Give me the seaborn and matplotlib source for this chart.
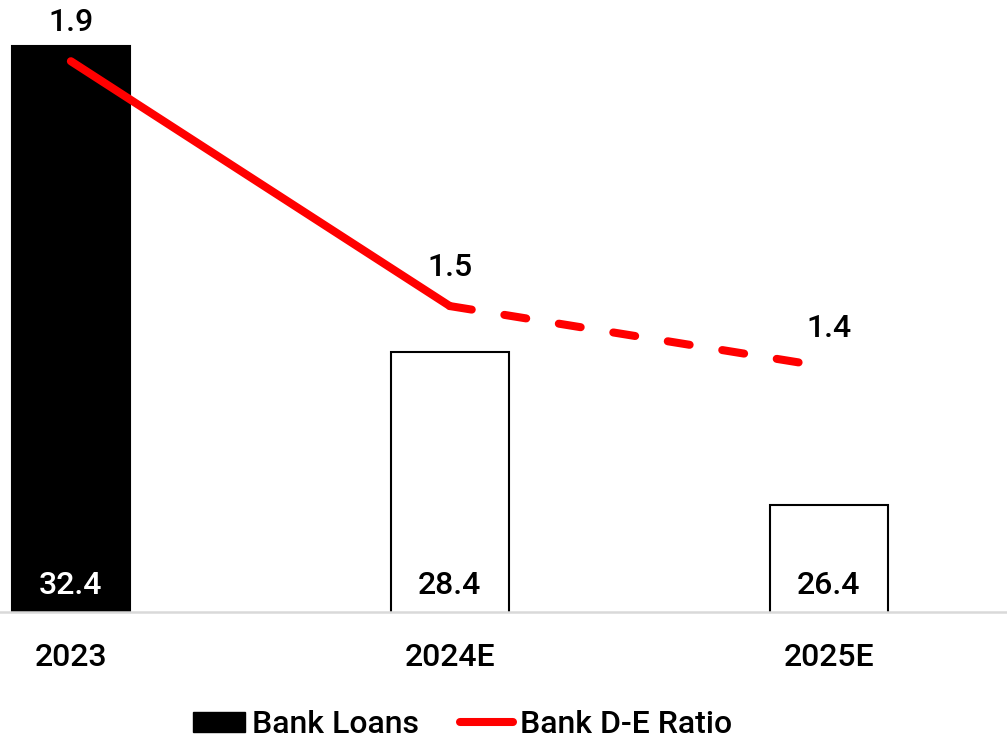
import matplotlib
matplotlib.use("Agg")
import matplotlib.pyplot as plt
from matplotlib.patches import Patch
from matplotlib.lines import Line2D
import seaborn as sns
import pandas as pd

# Data
years = ["2023", "2024E", "2025E"]
bank_loans = [32.4, 28.4, 26.4]
de_ratio = [1.9, 1.5, 1.4]
bar_fill = ["#000000", "#ffffff", "#ffffff"]
label_colors = ["white", "black", "black"]

sns.set_theme(style="white")
plt.rcParams["font.family"] = ["Roboto", "DejaVu Sans"]
plt.rcParams["font.weight"] = "medium"
plt.rcParams["text.color"] = "black"
plt.rcParams["xtick.color"] = "black"
plt.rcParams["xtick.labelcolor"] = "black"

FS = 23

fig = plt.figure(figsize=(10.07, 7.42), dpi=100)
ax = fig.add_axes([0.0, 0.175, 1.0, 0.825])

df = pd.DataFrame({"year": years, "loans": bank_loans})
sns.barplot(data=df, x="year", y="loans", hue="year", palette=bar_fill,
            legend=False, width=0.311, edgecolor="black", linewidth=1.5,
            saturation=1, ax=ax)

ax.set_ylim(25, 33)
ax.set_xlim(-0.187, 2.47)
ax.set_xlabel("")
ax.set_ylabel("")
ax.set_yticks([])
for s in ["top", "right", "left"]:
    ax.spines[s].set_visible(False)
ax.spines["bottom"].set_color("#d9d9d9")
ax.spines["bottom"].set_linewidth(1.8)
ax.tick_params(axis="x", length=0, pad=22, labelsize=FS, labelcolor="black")

# Bar value labels at the base of each bar
for i, v in enumerate(bank_loans):
    ax.annotate(f"{v:.1f}", xy=(i, 25), xytext=(0, 19), textcoords="offset points",
                ha="center", va="center", fontsize=FS, color=label_colors[i])

# D-E ratio line on secondary axis: actual (solid) then estimate (dashed)
ax2 = ax.twinx()
ax2.set_ylim(1.0, 2.0)
ax2.set_yticks([])
for s in ["top", "right", "left", "bottom"]:
    ax2.spines[s].set_visible(False)

xs = list(range(len(years)))
sns.lineplot(x=xs[:2], y=de_ratio[:2], color="#ff0000", linewidth=5.8,
             solid_capstyle="round", ax=ax2)
sns.lineplot(x=xs[1:], y=de_ratio[1:], color="#ff0000", linewidth=5.8,
             ax=ax2, dashes=False)
ax2.lines[-1].set_linestyle((0, (2.75, 4.1)))
ax2.lines[-1].set_dash_capstyle("round")
ax2.set_xlim(-0.187, 2.47)

for i, v in enumerate(de_ratio):
    ax2.annotate(f"{v:.1f}", xy=(i, v), xytext=(0, 28), textcoords="offset points",
                 ha="center", va="center", fontsize=FS, color="black")

handles = [
    Patch(facecolor="black", edgecolor="black", label="Bank Loans"),
    Line2D([0], [0], color="#ff0000", linewidth=5.8, solid_capstyle="round",
           label="Bank D-E Ratio"),
]
fig.legend(handles=handles, loc="lower center", bbox_to_anchor=(0.459, -0.035),
           ncol=2, frameon=False, fontsize=FS, handlelength=1.65, handleheight=0.62,
           handletextpad=0.2, columnspacing=1.3, labelcolor="black")

fig.savefig("out.png", dpi=100)
